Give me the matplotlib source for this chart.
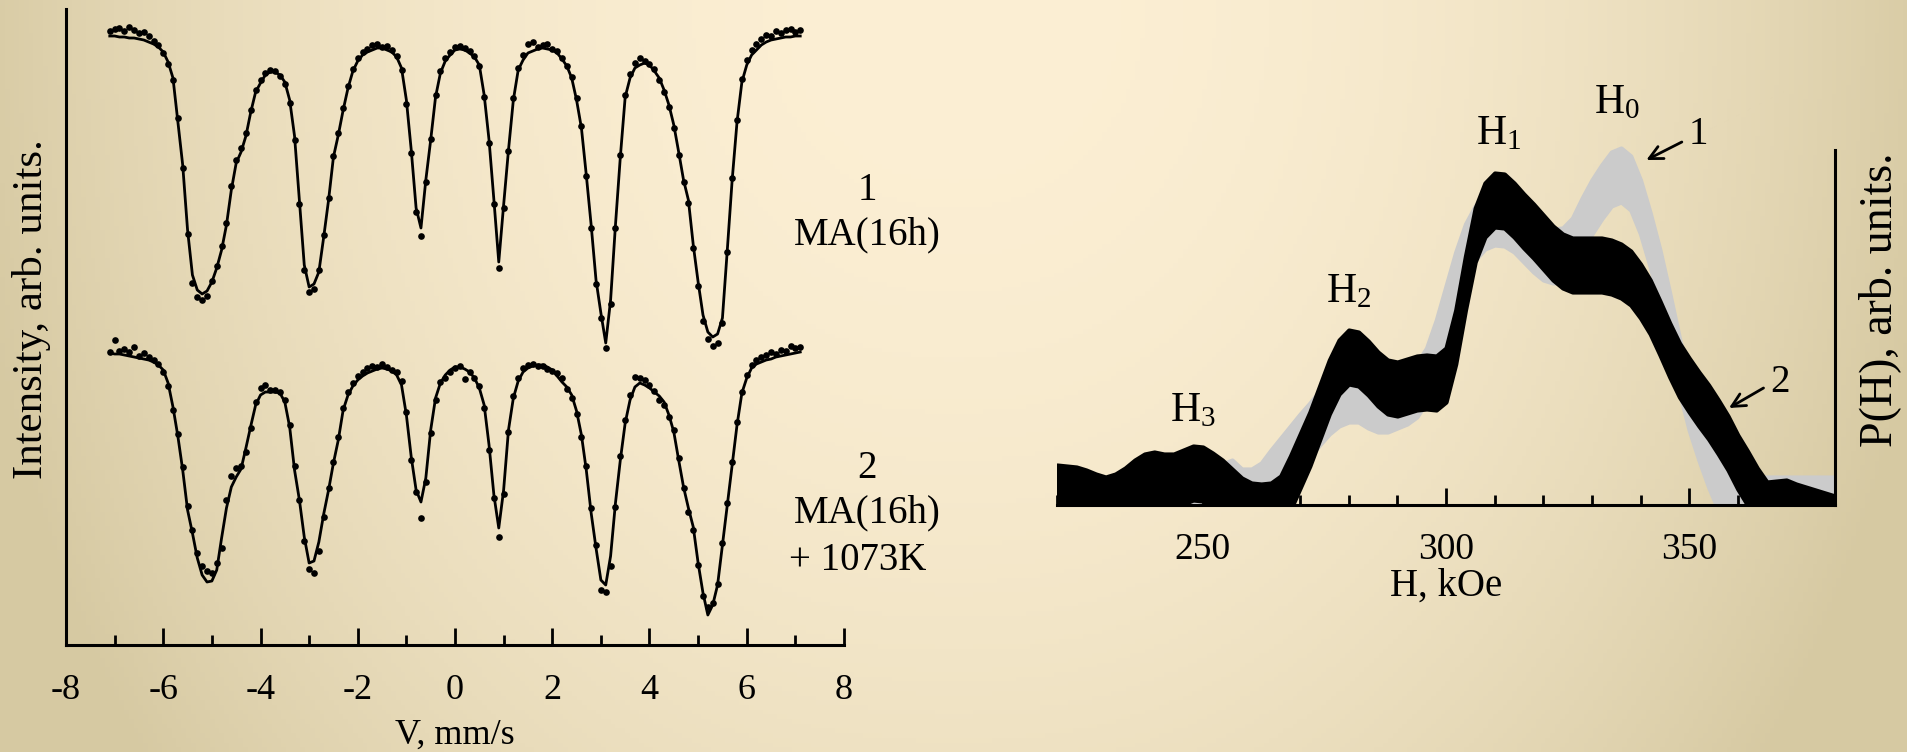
import numpy as np
import matplotlib
matplotlib.use("Agg")
import matplotlib.pyplot as plt
from matplotlib.ticker import MultipleLocator

plt.rcParams['font.family'] = ['Liberation Serif', 'DejaVu Serif']
plt.rcParams['mathtext.fontset'] = 'custom'
plt.rcParams['mathtext.rm'] = 'Liberation Serif'
plt.rcParams['mathtext.it'] = 'Liberation Serif:italic'
plt.rcParams['axes.unicode_minus'] = False

# Mossbauer spectra, transmission in per mille, channels from -7.1 to 7.1 mm/s (step 0.1)
fit_1 = [997, 997, 996, 996, 995, 995, 994, 993, 991, 989,
         986, 981, 971, 955, 911, 868, 803, 758, 743, 739,
         742, 751, 765, 783, 808, 843, 870, 881, 897, 921,
         941, 950, 958, 961, 961, 958, 951, 933, 897, 833,
         768, 746, 749, 761, 796, 833, 876, 898, 923, 945,
         962, 972, 978, 981, 983, 985, 985, 983, 981, 976,
         965, 933, 883, 825, 805, 853, 893, 936, 960, 972,
         978, 983, 984, 983, 980, 976, 968, 938, 893, 833,
         771, 828, 883, 933, 963, 973, 980, 982, 984, 985,
         984, 983, 980, 974, 967, 955, 933, 905, 858, 808,
         753, 720, 690, 733, 808, 876, 936, 955, 965, 968,
         970, 968, 962, 955, 943, 928, 908, 881, 853, 833,
         788, 751, 718, 701, 696, 699, 715, 783, 853, 911,
         951, 968, 978, 983, 988, 991, 993, 994, 995, 996,
         996, 997, 997]
data_1 = [1002, 1004, 1005, 1002, 1006, 1003, 1000, 1001, 997, 992,
          988, 980, 969, 953, 915, 865, 799, 750, 736, 733,
          737, 752, 767, 787, 810, 847, 873, 885, 900, 923,
          943, 953, 960, 963, 962, 957, 949, 930, 893, 829,
          763, 741, 744, 763, 798, 835, 877, 900, 925, 947,
          964, 975, 981, 984, 988, 989, 986, 987, 983, 977,
          963, 929, 880, 821, 797, 851, 894, 938, 962, 975,
          981, 986, 987, 985, 982, 977, 967, 936, 890, 829,
          765, 825, 882, 935, 965, 978, 989, 991, 986, 988,
          989, 984, 982, 975, 967, 956, 935, 907, 857, 805,
          749, 715, 685, 729, 805, 878, 938, 959, 970, 975,
          972, 969, 964, 953, 941, 926, 905, 878, 851, 830,
          785, 747, 712, 694, 687, 690, 710, 781, 855, 913,
          954, 973, 983, 989, 994, 998, 997, 1002, 1000, 1003,
          1004, 1001, 1003]
fit_2 = [999, 998, 998, 997, 996, 995, 994, 993, 992, 990,
         987, 982, 969, 945, 916, 882, 842, 819, 794, 777,
         770, 771, 782, 814, 844, 865, 875, 883, 904, 926,
         947, 957, 960, 960, 960, 959, 950, 925, 882, 852,
         815, 789, 791, 810, 838, 862, 889, 912, 942, 957,
         966, 972, 976, 979, 981, 983, 984, 983, 981, 977,
         967, 937, 895, 862, 850, 874, 922, 954, 969, 977,
         982, 985, 985, 983, 980, 974, 964, 947, 907, 857,
         824, 862, 922, 954, 971, 980, 984, 986, 987, 987,
         985, 982, 976, 970, 965, 957, 941, 917, 882, 839,
         804, 772, 767, 796, 849, 892, 929, 952, 965, 969,
         967, 964, 960, 956, 950, 937, 920, 892, 865, 844,
         825, 789, 759, 737, 747, 767, 807, 847, 887, 927,
         959, 974, 984, 988, 990, 992, 993, 995, 996, 997,
         998, 999, 1000]
data_2 = [1000, 1012, 1001, 1003, 1000, 1005, 996, 999, 995, 992,
          988, 980, 966, 942, 918, 885, 846, 822, 799, 786,
          781, 779, 789, 804, 852, 876, 884, 886, 900, 924,
          950, 964, 967, 962, 962, 960, 952, 927, 886, 852,
          811, 783, 779, 801, 835, 864, 890, 915, 944, 960,
          969, 976, 980, 984, 986, 985, 988, 985, 982, 980,
          971, 940, 892, 860, 834, 870, 919, 952, 970, 974,
          980, 984, 986, 973, 980, 974, 966, 944, 902, 854,
          815, 858, 920, 956, 974, 984, 987, 988, 986, 986,
          983, 981, 979, 974, 963, 954, 938, 915, 886, 844,
          807, 762, 760, 786, 845, 896, 932, 957, 975, 974,
          972, 967, 961, 952, 947, 935, 922, 894, 864, 840,
          822, 787, 756, 745, 749, 768, 809, 849, 890, 930,
          960, 977, 987, 992, 995, 997, 1000, 998, 1002, 1001,
          1006, 1004, 1005]
shift_2 = 319  # vertical offset of spectrum 2

# hyperfine field distributions, H = 220..380 kOe (step 2)
field = np.arange(220, 381, 2)
p_h_1 = [-15, -15, -16, -17, -18, -18, -18, -17, -16, -14,
         -13, -12, -12, -11, -9, -5, 3, 14, 18, 9,
         9, 15, 28, 40, 52, 64, 75, 87, 98, 106,
         110, 110, 104, 100, 100, 104, 108, 115, 130, 158,
         192, 226, 254, 272, 283, 287, 286, 280, 270, 260,
         252, 249, 250, 260, 280, 298, 313, 326, 330, 322,
         298, 265, 228, 185, 140, 102, 72, 45, 22, 8,
         3, 1, 1, 1, 1, 1, 1, 1, 1, 1, 1]
p_h_2 = [13, 12, 11, 8, 4, 1, 4, 10, 18, 24,
         26, 24, 24, 28, 32, 31, 25, 18, 9, 0,
         -5, -6, -5, 2, 22, 44, 66, 92, 118, 138,
         148, 146, 137, 126, 118, 116, 119, 122, 123, 122,
         130, 168, 222, 270, 295, 305, 304, 295, 284, 274,
         263, 252, 244, 240, 240, 240, 240, 238, 234, 227,
         214, 198, 177, 155, 135, 120, 106, 93, 78, 62,
         43, 27, 10, -4, -3, -2, -6, -9, -12, -15, -18]
band = 27  # half height of the distribution bands

W, H = 1908, 752
fig = plt.figure(figsize=(W / 100, H / 100), dpi=100)


def px(x, y):
    return x / W, 1 - y / H


# warm background, lighter in the upper middle
gx, gy = np.meshgrid(np.linspace(-1, 1, 400), np.linspace(0, 1, 160))
t = np.clip(0.9 * np.abs(gx) ** 2.2 + 0.35 * gy ** 2, 0, 1)[..., None]
light = np.array([252, 239, 212]) / 255
dark = np.array([214, 201, 162]) / 255
bg = fig.add_axes([0, 0, 1, 1], zorder=-10)
bg.imshow(light * (1 - t) + dark * t, aspect='auto', extent=[0, 1, 0, 1])
bg.axis('off')

# left panel: spectra
ax1 = fig.add_axes([66 / W, 107 / H, 778 / W, 636 / H], facecolor='none')
v = np.linspace(-7.1, 7.1, len(fit_1))
ax1.plot(v, data_1, 'o', color='black', ms=4.8, mew=0)
ax1.plot(v, fit_1, '-', color='black', lw=2.0)
ax1.plot(v, np.array(data_2) - shift_2, 'o', color='black', ms=4.8, mew=0)
ax1.plot(v, np.array(fit_2) - shift_2, '-', color='black', lw=2.0)
ax1.set_xlim(-8, 8)
ax1.set_ylim(388, 1024)
ax1.xaxis.set_major_locator(MultipleLocator(2))
ax1.xaxis.set_minor_locator(MultipleLocator(1))
ax1.tick_params(axis='x', which='major', length=12, direction='in', width=2,
                labelsize=26, pad=21)
ax1.tick_params(axis='x', which='minor', length=7, direction='in', width=2)
ax1.set_yticks([])
for s in ['top', 'right']:
    ax1.spines[s].set_visible(False)
for s in ['left', 'bottom']:
    ax1.spines[s].set_linewidth(2.2)
ax1.set_xlabel('V, mm/s', fontsize=26, labelpad=8)

fig.text(*px(32, 309), 'Intensity, arb. units.', rotation=90, fontsize=31,
         ha='center', va='center')
fig.text(*px(867, 191), '1', fontsize=28, ha='center', va='center')
fig.text(*px(867, 235), 'MA(16h)', fontsize=28, ha='center', va='center')
fig.text(*px(867, 468), '2', fontsize=28, ha='center', va='center')
fig.text(*px(867, 513), 'MA(16h)', fontsize=28, ha='center', va='center')
fig.text(*px(858, 560), '+ 1073K', fontsize=28, ha='center', va='center')

# right panel: field distributions
ax2 = fig.add_axes([1057 / W, 247 / H, 778 / W, 375 / H], facecolor='none')
p1 = np.array(p_h_1)
p2 = np.array(p_h_2)
ax2.fill_between(field, p1 - band, p1 + band, color='#cbcbcb', lw=3)
ax2.fill_between(field, p2 - band, p2 + band, color='black', lw=3)
ax2.set_xlim(220, 380)
ax2.set_ylim(0, 375)
ax2.xaxis.set_major_locator(MultipleLocator(50))
ax2.xaxis.set_minor_locator(MultipleLocator(10))
ax2.tick_params(axis='x', which='major', length=12, direction='in', width=2,
                labelsize=27, pad=20)
ax2.tick_params(axis='x', which='minor', length=7, direction='in', width=2)
ax2.set_yticks([])
for s in ['top', 'left']:
    ax2.spines[s].set_visible(False)
for s in ['right', 'bottom']:
    ax2.spines[s].set_linewidth(2.2)
ax2.spines['right'].set_bounds(0, 355)
ax2.set_xlabel('H, kOe', fontsize=28, labelpad=0)

fig.text(*px(1880, 300), 'P(H), arb. units.', rotation=90, fontsize=33,
         ha='center', va='center')

ax2.text(335.2, 402, r'H$_0$', fontsize=30, ha='center', va='center')
ax2.text(310.9, 371, r'H$_1$', fontsize=30, ha='center', va='center')
ax2.text(279.9, 213, r'H$_2$', fontsize=30, ha='center', va='center')
ax2.text(248.0, 94, r'H$_3$', fontsize=30, ha='center', va='center')

arrow = dict(arrowstyle='->', color='black', lw=2.0, mutation_scale=24,
             shrinkA=0, shrinkB=0)
ax2.annotate('', xy=(341.2, 345), xytext=(348.5, 363), arrowprops=arrow)
ax2.text(352.0, 370, '1', fontsize=28, ha='center', va='center')
ax2.annotate('', xy=(358.2, 97), xytext=(365.3, 117), arrowprops=arrow)
ax2.text(368.6, 122, '2', fontsize=28, ha='center', va='center')

fig.savefig('out.png', dpi=100)
